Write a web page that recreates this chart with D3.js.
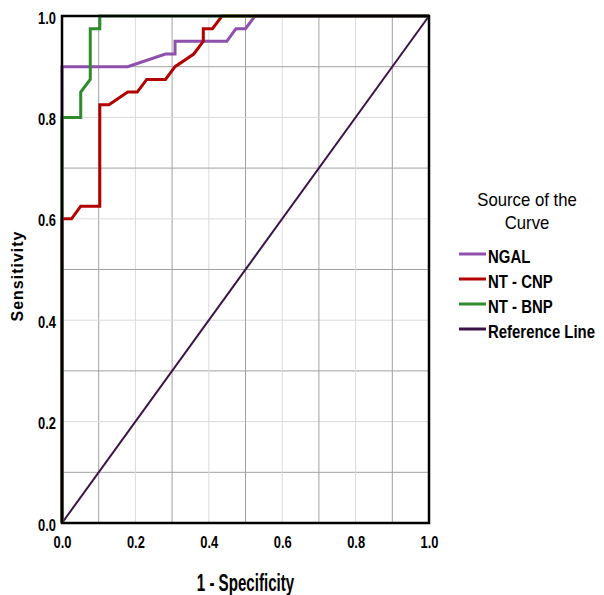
<!DOCTYPE html>
<html><head><meta charset="utf-8">
<script src="https://cdn.jsdelivr.net/npm/d3@7"></script>
<style>body{margin:0;background:#fff}</style>
</head><body>
<script>
const seriesNames = ["NGAL", "NT - CNP", "NT - BNP", "Reference Line"];
const seriesColors = ["#8e4fad", "#b30000", "#2e8b2e", "#3a1446"];
const ngalFpr = [0, 0, 0.179, 0.282, 0.308, 0.308, 0.449, 0.474, 0.5, 0.526, 1];
const ngalTpr = [0, 0.9, 0.9, 0.925, 0.925, 0.95, 0.95, 0.975, 0.975, 1, 1];
const cnpFpr = [0, 0, 0.026, 0.051, 0.103, 0.103, 0.128, 0.179, 0.205, 0.231, 0.282, 0.308, 0.359, 0.385, 0.385, 0.41, 0.436, 1];
const cnpTpr = [0, 0.6, 0.6, 0.625, 0.625, 0.825, 0.825, 0.85, 0.85, 0.875, 0.875, 0.9, 0.925, 0.95, 0.975, 0.975, 1, 1];
const bnpFpr = [0, 0, 0.051, 0.051, 0.077, 0.077, 0.103, 0.103, 1];
const bnpTpr = [0, 0.8, 0.8, 0.85, 0.875, 0.975, 0.975, 1, 1];
const refFpr = [0, 1];
const refTpr = [0, 1];
const tickValues = [0, 0.2, 0.4, 0.6, 0.8, 1.0];
const gridValues = [0.1, 0.2, 0.3, 0.4, 0.5, 0.6, 0.7, 0.8, 0.9];

const W = 604, H = 595;
const svg = d3.select("body").append("svg").attr("width", W).attr("height", H);
const x = d3.scaleLinear().domain([0, 1]).range([62, 429]);
const y = d3.scaleLinear().domain([0, 1]).range([523, 16]);
const font = "'Liberation Sans',Arial,sans-serif";

function txt(px, py, str, size, weight, sx, anchor) {
  return svg.append("text").attr("transform", `translate(${px},${py}) scale(${sx},1)`)
    .attr("text-anchor", anchor).attr("font-family", font).attr("font-weight", weight)
    .attr("font-size", size).attr("fill", "#000").text(str);
}

// grid
const g = svg.append("g");
gridValues.forEach(v => {
  const dark = Math.round(v * 10) % 2 === 1;
  const col = dark ? "#a0a0a0" : "#dadada";
  g.append("line").attr("x1", x(v)).attr("x2", x(v)).attr("y1", y(0)).attr("y2", y(1))
    .attr("stroke", col).attr("stroke-width", 1);
  g.append("line").attr("x1", x(0)).attr("x2", x(1)).attr("y1", y(v)).attr("y2", y(v))
    .attr("stroke", col).attr("stroke-width", 1);
});

const line = d3.line().x(d => x(d[0])).y(d => y(d[1]));
const series = [
  [refFpr, refTpr, 3],
  [ngalFpr, ngalTpr, 0],
  [cnpFpr, cnpTpr, 1],
  [bnpFpr, bnpTpr, 2]
];
series.forEach(([fx, fy, ci]) => {
  const pts = fx.map((v, i) => [v, fy[i]]);
  svg.append("path").attr("d", line(pts)).attr("fill", "none")
    .attr("stroke", seriesColors[ci]).attr("stroke-width", ci === 3 ? 2 : 3);
});

// frame
svg.append("rect").attr("x", x(0)).attr("y", y(1)).attr("width", x(1) - x(0)).attr("height", y(0) - y(1))
  .attr("fill", "none").attr("stroke", "#000").attr("stroke-width", 2.5);

// axes
const xAxis = svg.append("g").attr("transform", `translate(0,${y(0)})`)
  .call(d3.axisBottom(x).tickValues(tickValues).tickFormat(d3.format(".1f")).tickSize(0).tickPadding(13));
const yAxis = svg.append("g").attr("transform", `translate(${x(0)},0)`)
  .call(d3.axisLeft(y).tickValues(tickValues).tickFormat(d3.format(".1f")).tickSize(0).tickPadding(8));
[xAxis, yAxis].forEach(a => {
  a.select(".domain").remove();
  a.selectAll("text").attr("font-family", font).attr("font-weight", "bold")
    .attr("font-size", 17).attr("fill", "#000").attr("transform", "scale(0.76,1)");
});
yAxis.selectAll("text").attr("dy", "0.42em");

txt(x(0.5), 591, "1 - Specificity", 24, "bold", 0.63, "middle");
svg.append("text").attr("transform", `translate(23,276) rotate(-90)`).attr("text-anchor", "middle")
  .attr("font-family", font).attr("font-weight", "bold")
  .attr("font-size", 16).attr("letter-spacing", 1).text("Sensitivity");

// legend
txt(527, 206, "Source of the", 18, "normal", 0.93, "middle");
txt(527, 229, "Curve", 18, "normal", 0.93, "middle");
seriesNames.forEach((n, i) => {
  const yy = 254 + i * 25;
  svg.append("line").attr("x1", 459).attr("x2", 486).attr("y1", yy).attr("y2", yy)
    .attr("stroke", seriesColors[i]).attr("stroke-width", 3);
  txt(488, yy + 9, n, 18, "bold", 0.83, "start");
});
</script>
</body></html>
